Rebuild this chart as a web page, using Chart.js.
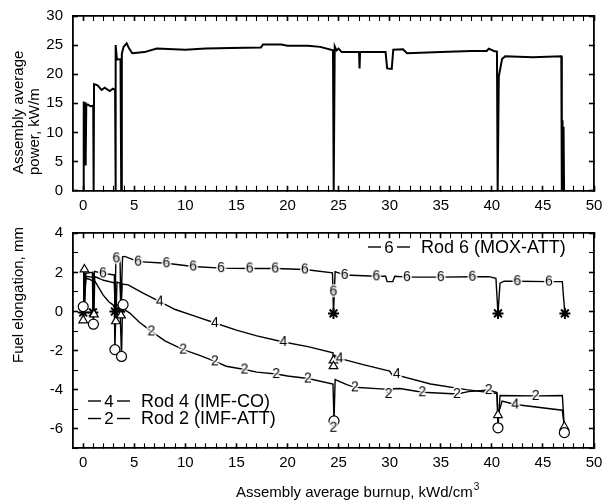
<!DOCTYPE html>
<html><head><meta charset="utf-8">
<script src="https://cdn.jsdelivr.net/npm/chart.js@4.4.1/dist/chart.umd.min.js"></script>
<style>
html,body{margin:0;padding:0;background:#fff;}
#wrap{position:relative;width:602px;height:502px;overflow:hidden;}
.box{position:absolute;left:0;width:602px;}
canvas{display:block;}
</style></head><body>
<div id="wrap">
<div class="box" style="top:0;height:215px"><canvas id="c1" width="602" height="215"></canvas></div>
<div class="box" style="top:215px;height:287px"><canvas id="c2" width="602" height="287"></canvas></div>
</div>
<script>
// ---------- data ----------
const xTickLabels = [0,5,10,15,20,25,30,35,40,45,50];
const powerTickLabels = [0,5,10,15,20,25,30];
const elongTickLabels = [-6,-4,-2,0,2,4];

const powerBurnup = [0,0.05,0.05,0.1,0.14,0.18,0.22,0.27,0.3,0.45,0.7,0.98,1.02,1.06,1.4,1.8,2.1,2.6,2.9,3.12,3.15,3.2,3.3,3.65,3.72,3.78,3.95,4.25,4.5,4.8,6.0,7.2,10,12,14.4,17.4,17.6,19.4,20,22,23.2,24.45,24.52,24.62,24.8,25.0,25.3,27.0,27.05,27.1,29.6,29.75,30.2,30.35,31.3,31.7,35,38,39.5,39.7,40.2,40.5,40.57,40.68,41.0,41.3,44,46.8,46.85,46.92,46.97,47.02,47.07];
const powerValues = [0,0,15.3,5,14.5,4.5,15.2,6,14.6,14.8,14.5,14.6,0,18.3,18.1,17.3,17.7,17.1,17.5,17.3,0,25.0,22.5,22.6,0,23.5,24.7,25.3,24.4,23.6,23.8,24.4,24.2,24.4,24.5,24.6,25.1,25.1,24.9,24.9,24.7,24.1,0,24.8,24.1,24.4,23.8,23.8,21.0,23.8,23.8,21.0,20.9,24.2,24.3,23.6,23.8,24.0,24.0,24.4,24.0,23.9,0,19.6,22.6,23.1,22.9,23.1,0,12.1,0,11,0];

const rod6Burnup = [0,0.05,0.15,0.25,0.9,0.95,1.1,1.94,3.05,3.1,3.2,3.6,3.7,3.85,4.07,5.38,8.15,10.77,13.5,16.3,18.8,21.7,24.4,24.5,24.66,25.6,28.7,29.6,29.75,30.3,30.5,31.7,35,38.1,39.7,40.4,40.6,40.8,41.2,42.5,45.6,46.9,47.0,47.15];
const rod6Elong = [-0.05,1.9,0.3,1.95,2.0,-0.05,2.05,1.95,1.87,0.0,2.72,2.68,0.15,2.8,2.82,2.55,2.47,2.3,2.22,2.2,2.2,2.15,1.98,-0.1,2.04,1.87,1.8,1.8,1.53,1.53,1.8,1.76,1.76,1.78,1.78,1.7,-0.1,1.45,1.55,1.55,1.53,1.53,0.85,-0.1];
const rod4Burnup = [0,0.05,0.12,0.2,0.3,0.95,1.05,1.13,2.0,3.05,3.2,3.3,3.6,3.7,3.8,4.4,5.86,7.5,9.0,11.0,12.9,15.0,17.0,19.6,22.0,24.45,24.5,24.6,25.1,27.4,30.0,30.3,30.7,31.0,34.0,37.5,40.5,40.6,41.0,42.3,46.9,47.1];
const rod4Elong = [-0.45,2.1,2.15,1.2,1.8,1.75,-0.15,1.79,1.6,1.47,-0.5,1.5,1.45,-0.2,1.4,1.36,0.94,0.51,0.1,-0.25,-0.59,-0.95,-1.25,-1.56,-1.8,-2.12,-2.8,-2.25,-2.4,-2.72,-3.05,-3.3,-3.15,-3.3,-3.71,-4.0,-4.2,-5.3,-4.59,-4.76,-5.05,-5.9];
const rod2Burnup = [0,0.05,0.12,0.2,0.6,0.95,1.0,1.08,1.45,1.94,2.5,2.92,3.05,3.1,3.2,3.6,3.75,3.85,4.07,4.56,5.5,6.68,8.0,9.79,11.4,12.9,14.0,15.8,17.0,18.9,20.0,22.0,24.45,24.55,24.66,25.8,26.6,29.1,29.6,29.9,30.4,31.0,33.2,36.6,37.7,39.7,40.5,40.6,40.8,44.3,46.9,47.0,47.1];
const rod2Elong = [0.25,1.75,0.5,1.7,1.65,1.55,-0.65,1.6,1.28,0.85,0.5,0.34,0.2,-1.95,0.1,0.2,-2.3,0.3,0.09,-0.08,-0.55,-1.02,-1.5,-1.95,-2.25,-2.55,-2.8,-2.97,-3.1,-3.2,-3.3,-3.43,-3.71,-5.6,-3.48,-3.74,-3.88,-3.96,-3.98,-4.22,-3.95,-3.94,-4.13,-4.22,-4.1,-4.02,-4.15,-5.95,-4.3,-4.32,-4.3,-5.1,-6.2];

const rod6DigitX = [1.94,3.25,5.38,8.15,10.77,13.5,16.3,18.8,21.7,24.5,25.6,28.7,31.7,35.0,38.1,42.5,45.6];
const rod6DigitY = [1.95,2.72,2.55,2.47,2.3,2.22,2.2,2.2,2.15,1.02,1.87,1.8,1.76,1.76,1.78,1.55,1.53];
const rod4DigitX = [7.5,12.9,19.6,25.1,30.7,42.3];
const rod4DigitY = [0.51,-0.59,-1.56,-2.4,-3.2,-4.76];
const rod2DigitX = [6.68,9.79,12.9,15.8,18.9,22.0,24.5,26.6,29.9,33.2,36.6,39.7,44.3];
const rod2DigitY = [-1.02,-1.95,-2.55,-2.97,-3.2,-3.43,-5.95,-3.88,-4.22,-4.13,-4.22,-4.02,-4.32];

const rod2ColdX = [0.0,1.0,3.1,3.75,3.9,24.55,40.6,47.1];
const rod2ColdY = [0.25,-0.65,-1.95,-2.3,0.35,-5.6,-5.95,-6.2];
const rod4ColdX = [0.0,0.12,1.05,3.2,3.7,24.5,24.5,40.6,47.1];
const rod4ColdY = [-0.45,2.15,-0.15,-0.5,-0.2,-2.5,-2.8,-5.3,-5.9];
const rod6ColdX = [0.0,0.95,3.1,3.7,24.5,40.6,47.15];
const rod6ColdY = [-0.05,-0.05,0.0,0.15,-0.1,-0.1,-0.1];

const legendLabels = ['Rod 6 (MOX-ATT)','Rod 4 (IMF-CO)','Rod 2 (IMF-ATT)'];
// ---------- helpers ----------
const FAM = '"Liberation Sans", Arial, Helvetica, sans-serif';
const pts = (xs, ys) => xs.map((v, i) => ({x: v, y: ys[i]}));

function digitMarker(ch) {
  const c = document.createElement('canvas');
  c.width = 14; c.height = 16;
  const g = c.getContext('2d');
  g.font = '14px ' + FAM;
  g.textAlign = 'center'; g.textBaseline = 'middle';
  g.lineWidth = 3; g.strokeStyle = '#fff'; g.lineJoin = 'round';
  g.strokeText(ch, 7, 8.5);
  g.fillStyle = '#000'; g.fillText(ch, 7, 8.5);
  return c;
}

function vText(ctx, text, x, yStart, font) {
  ctx.save();
  ctx.font = font;
  ctx.fillStyle = '#000';
  ctx.translate(x, yStart);
  ctx.rotate(-Math.PI / 2);
  ctx.textAlign = 'left'; ctx.textBaseline = 'middle';
  ctx.fillText(text, 0, 0);
  ctx.restore();
}

function textPlugin(name, draw) {
  return { id: name, afterDraw(chart) { draw(chart.ctx, chart); } };
}

// tick positions every `step` across the range; labels come from the label arrays
function tickBuilder(lo, hi, step) {
  return s => {
    const t = [];
    for (let v = lo; v <= hi + 1e-9; v += step) t.push({value: Math.round(v * 1000) / 1000});
    s.ticks = t;
  };
}

function axisGrid(labels) {
  return {
    display: true, drawOnChartArea: false, drawTicks: true, tickLength: -5,
    tickColor: '#000',
    tickWidth: c => (c.tick && labels.indexOf(c.tick.value) >= 0) ? 1.6 : 1.1
  };
}
const axisBorder = {display: true, color: '#000', width: 1.8};

function scalesFor(yMin, yMax, yStep, yLabels, xHeight) {
  const tickFont = {size: 15, family: FAM};
  return {
    x: {
      type: 'linear', position: 'bottom', min: -1, max: 50,
      afterBuildTicks: tickBuilder(0, 50, 1),
      afterFit: s => { s.height = xHeight; s.paddingLeft = 0; s.paddingRight = 0; },
      grid: axisGrid(xTickLabels), border: axisBorder,
      ticks: {padding: 11, color: '#000', font: tickFont, maxRotation: 0, autoSkip: false,
        callback: v => xTickLabels.indexOf(v) >= 0 ? String(v) : ''}
    },
    x2: {
      type: 'linear', position: 'top', axis: 'x', min: -1, max: 50,
      afterBuildTicks: tickBuilder(0, 50, 1),
      afterFit: s => { s.height = 0; s.paddingLeft = 0; s.paddingRight = 0; },
      grid: axisGrid(xTickLabels), border: axisBorder,
      ticks: {display: false}
    },
    y: {
      type: 'linear', position: 'left', min: yMin, max: yMax,
      afterBuildTicks: tickBuilder(yMin, yMax, yStep),
      afterFit: s => { s.width = 73; s.paddingTop = 0; s.paddingBottom = 0; },
      grid: axisGrid(yLabels), border: axisBorder,
      ticks: {padding: 15, color: '#000', font: tickFont, autoSkip: false,
        callback: v => yLabels.indexOf(v) >= 0 ? String(v) : ''}
    },
    y2: {
      type: 'linear', position: 'right', axis: 'y', min: yMin, max: yMax,
      afterBuildTicks: tickBuilder(yMin, yMax, yStep),
      afterFit: s => { s.width = 0; s.paddingTop = 0; s.paddingBottom = 0; },
      grid: axisGrid(yLabels), border: axisBorder,
      ticks: {display: false}
    }
  };
}

// ---------- top chart ----------
new Chart(document.getElementById('c1'), {
  type: 'line',
  data: {datasets: [{
    data: pts(powerBurnup, powerValues), xAxisID: 'x', yAxisID: 'y',
    borderColor: '#000', borderWidth: 2, pointRadius: 0, tension: 0, fill: false
  }]},
  options: {
    responsive: false, animation: false,
    layout: {padding: {top: 16, right: 8, left: 0, bottom: 0}},
    scales: scalesFor(0, 30, 5, powerTickLabels, 24.3),
    plugins: {legend: {display: false}, tooltip: {enabled: false}}
  },
  plugins: [textPlugin('titlesTop', (ctx) => {
    vText(ctx, 'Assembly average', 19, 174, '15px ' + FAM);
    vText(ctx, 'power, kW/m', 35, 175, '15px ' + FAM);
  })]
});

// ---------- bottom chart ----------
const lineDs = (xs, ys) => ({
  data: pts(xs, ys), xAxisID: 'x', yAxisID: 'y', borderColor: '#000', borderWidth: 1.4, pointRadius: 0,
  tension: 0, fill: false, order: 3
});
const digitDs = (xs, ys, ch) => ({
  data: pts(xs, ys), xAxisID: 'x', yAxisID: 'y', showLine: false, pointStyle: digitMarker(ch), pointRadius: 7, order: 1
});
const coldDs = (xs, ys, style, r) => ({
  data: pts(xs, ys), xAxisID: 'x', yAxisID: 'y', showLine: false, pointStyle: style, pointRadius: r,
  backgroundColor: '#fff', borderColor: '#000', pointBorderWidth: style === 'star' ? 2 : 1.2, order: 2
});

new Chart(document.getElementById('c2'), {
  type: 'line',
  data: {datasets: [
    lineDs(rod6Burnup, rod6Elong),
    lineDs(rod4Burnup, rod4Elong),
    lineDs(rod2Burnup, rod2Elong),
    coldDs(rod2ColdX, rod2ColdY, 'circle', 5),
    coldDs(rod4ColdX, rod4ColdY, 'triangle', 5),
    coldDs(rod6ColdX, rod6ColdY, 'star', 5.5),
    digitDs(rod6DigitX, rod6DigitY, '6'),
    digitDs(rod4DigitX, rod4DigitY, '4'),
    digitDs(rod2DigitX, rod2DigitY, '2')
  ]},
  options: {
    responsive: false, animation: false,
    layout: {padding: {top: 18.3, right: 8, left: 0, bottom: 0}},
    scales: scalesFor(-7, 4, 1, elongTickLabels, 53.7),
    plugins: {legend: {display: false}, tooltip: {enabled: false}}
  },
  plugins: [textPlugin('titlesBottom', (ctx) => {
    vText(ctx, 'Fuel elongation, mm', 19, 148, '15px ' + FAM);
    ctx.save();
    ctx.fillStyle = '#000';
    ctx.font = '15px ' + FAM;
    ctx.textAlign = 'left'; ctx.textBaseline = 'alphabetic';
    const t = 'Assembly average burnup, kWd/cm';
    ctx.fillText(t, 236, 282);
    const w = ctx.measureText(t).width;
    ctx.font = '10px ' + FAM;
    ctx.fillText('3', 236 + w + 1, 275);
    const entries = [
      {d: '6', label: legendLabels[0], x0: 368, y: 32},
      {d: '4', label: legendLabels[1], x0: 88, y: 186},
      {d: '2', label: legendLabels[2], x0: 88, y: 203.5}
    ];
    ctx.strokeStyle = '#000'; ctx.lineWidth = 1.4; ctx.setLineDash([]);
    entries.forEach(e => {
      ctx.beginPath(); ctx.moveTo(e.x0, e.y); ctx.lineTo(e.x0 + 13, e.y); ctx.stroke();
      ctx.beginPath(); ctx.moveTo(e.x0 + 29, e.y); ctx.lineTo(e.x0 + 42, e.y); ctx.stroke();
      ctx.font = '17px ' + FAM;
      ctx.textAlign = 'center'; ctx.textBaseline = 'middle';
      ctx.fillText(e.d, e.x0 + 21, e.y + 1);
      ctx.font = '18px ' + FAM;
      ctx.textAlign = 'left';
      ctx.fillText(e.label, e.x0 + 53, e.y + 1);
    });
    ctx.restore();
  })]
});
</script>
</body></html>
